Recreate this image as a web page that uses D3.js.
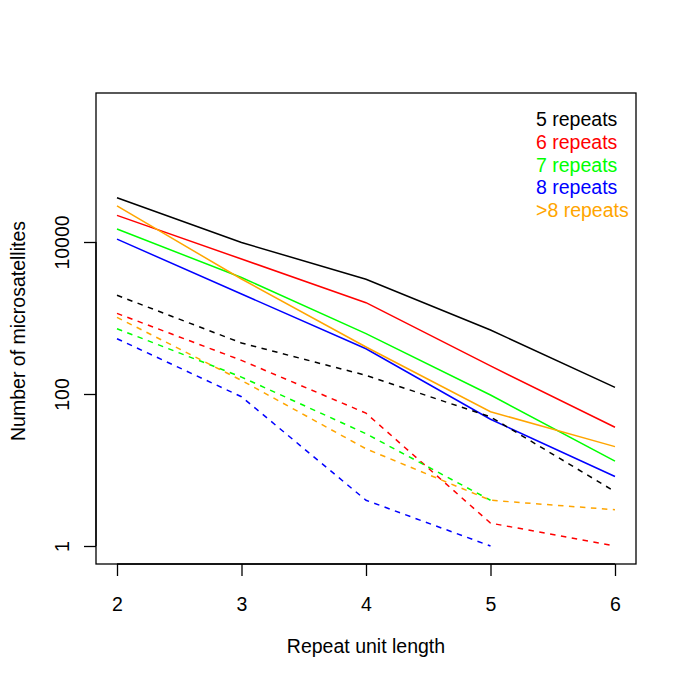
<!DOCTYPE html>
<html>
<head>
<meta charset="utf-8">
<script src="https://cdn.jsdelivr.net/npm/d3@7"></script>
<style>
body { margin: 0; background: #fff; }
text { font-family: "Liberation Sans", Arial, Helvetica, sans-serif; }
</style>
</head>
<body>
<svg id="chart" width="685" height="683"></svg>
<script>
const unitLengths = [2, 3, 4, 5, 6];
const xTicks = [2, 3, 4, 5, 6];
const yTicks = [1, 100, 10000];
const seriesNames = ["5 repeats", "6 repeats", "7 repeats", "8 repeats", ">8 repeats"];
const seriesColors = ["#000000", "#FF0000", "#00FF00", "#0000FF", "#FFA500"];

// solid lines (one set of counts)
const solid5 = [38300, 9850, 3230, 695, 122];
const solid6 = [22400, 5970, 1590, 234, 36.5];
const solid7 = [14800, 3410, 623, 97, 13.1];
const solid8 = [10900, 2070, 394, 46.5, 8.2];
const solidGt8 = [29800, 3260, 415, 58.5, 20.3];

// dashed lines (second set of counts); null = no value
const dashed5 = [1990, 469, 176, 50, 5.2];
const dashed6 = [1150, 277, 56, 2, 1];
const dashed7 = [723, 167, 30, 4, null];
const dashed8 = [534, 92, 4, 1, null];
const dashedGt8 = [1020, 151, 19, 4, 3];

const solidSeries = [solid5, solid6, solid7, solid8, solidGt8];
const dashedSeries = [dashed5, dashed6, dashed7, dashed8, dashedGt8];

const FS = 19.5;
const svg = d3.select("#chart");
const box = { left: 96, right: 636, top: 93, bottom: 564 };

const x = d3.scaleLinear().domain([2, 6]).range([117, 615]);
const y = d3.scaleLog().domain([1, 10000]).range([546, 242]);

const line = d3.line()
  .defined(d => d.v != null)
  .x(d => x(d.x))
  .y(d => y(d.v));

function draw(series, dashed) {
  series.forEach((vals, i) => {
    const pts = vals.map((v, j) => ({ x: unitLengths[j], v }));
    svg.append("path")
      .datum(pts)
      .attr("d", line)
      .attr("fill", "none")
      .attr("stroke", seriesColors[i])
      .attr("stroke-width", 1.5)
      .attr("stroke-dasharray", dashed ? "5.5,5.5" : null);
  });
}
draw(solidSeries, false);
draw(dashedSeries, true);

// box
svg.append("rect")
  .attr("x", box.left).attr("y", box.top)
  .attr("width", box.right - box.left).attr("height", box.bottom - box.top)
  .attr("fill", "none").attr("stroke", "#000").attr("stroke-width", 1.3);

// x axis
const xAxis = d3.axisBottom(x).tickValues(xTicks).tickSize(12).tickPadding(21).tickFormat(d3.format("d"));
const gx = svg.append("g").attr("transform", `translate(0,${box.bottom})`).call(xAxis);
gx.select(".domain").attr("d", `M${x(2)},0H${x(6)}`).attr("stroke-width", 1.3);
gx.selectAll(".tick line").attr("stroke-width", 1.3);
gx.selectAll("text").attr("font-size", FS).attr("fill", "#000")
  .attr("font-family", '"Liberation Sans", Arial, sans-serif');

// y axis
const yAxis = d3.axisLeft(y).tickValues(yTicks).tickSize(12).tickFormat(d3.format("d"));
const gy = svg.append("g").attr("transform", `translate(${box.left},0)`).call(yAxis);
gy.select(".domain").attr("d", `M0,${y(1)}V${y(10000)}`).attr("stroke-width", 1.3);
gy.selectAll(".tick line").attr("stroke-width", 1.3);
gy.selectAll("text")
  .attr("font-size", FS).attr("fill", "#000")
  .attr("font-family", '"Liberation Sans", Arial, sans-serif')
  .attr("x", null).attr("dy", null)
  .attr("text-anchor", "middle")
  .attr("transform", "translate(-27,0) rotate(-90)");

// axis titles
svg.append("text")
  .attr("x", (box.left + box.right) / 2).attr("y", 653)
  .attr("text-anchor", "middle").attr("font-size", FS).text("Repeat unit length");
svg.append("text")
  .attr("transform", `translate(25,331) rotate(-90)`)
  .attr("text-anchor", "middle").attr("font-size", FS).text("Number of microsatellites");

// legend (text only)
seriesNames.forEach((name, i) => {
  svg.append("text")
    .attr("x", 536).attr("y", 125.7 + i * 22.9)
    .attr("font-size", FS).attr("fill", seriesColors[i]).text(name);
});
</script>
</body>
</html>
